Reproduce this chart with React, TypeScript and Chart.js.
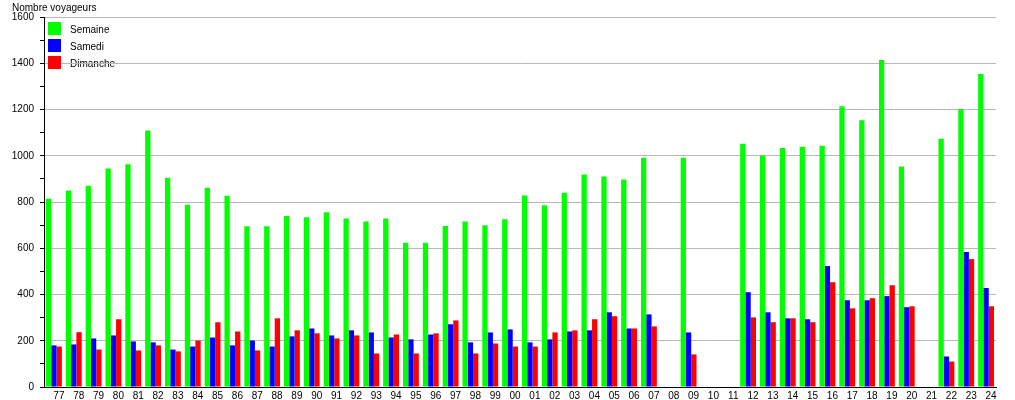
import React, { useEffect, useRef } from "react";
import { Chart, registerables } from "chart.js";

Chart.register(...registerables);

const categories = [
  "77", "78", "79", "80", "81", "82", "83", "84", "85", "86", "87", "88", "89", "90", "91", "92",
  "93", "94", "95", "96", "97", "98", "99", "00", "01", "02", "03", "04", "05", "06", "07", "08",
  "09", "10", "11", "12", "13", "14", "15", "16", "17", "18", "19", "20", "21", "22", "23", "24",
];

const semaine = [
  814, 850, 870, 945, 963, 1109, 905, 788, 862, 827, 695, 695, 740, 734, 756, 729,
  716, 729, 624, 624, 696, 716, 700, 725, 828, 786, 840, 919, 910, 897, 991, null,
  991, null, null, 1052, 1001, 1034, 1039, 1043, 1214, 1154, 1414, 954, null, 1073, 1201, 1353,
];

const samedi = [
  180, 184, 210, 223, 197, 193, 162, 175, 214, 180, 201, 175, 219, 253, 223, 245,
  236, 214, 206, 227, 271, 193, 236, 249, 193, 206, 240, 245, 323, 253, 314, null,
  236, null, null, 410, 323, 297, 293, 523, 375, 375, 393, 345, null, 132, 584, 428,
];

const dimanche = [
  175, 237, 162, 293, 158, 180, 154, 201, 280, 240, 158, 297, 245, 232, 210, 223,
  145, 227, 145, 232, 288, 145, 188, 175, 175, 236, 245, 293, 306, 253, 262, null,
  141, null, null, 301, 280, 297, 280, 453, 340, 384, 440, 349, null, 110, 553, 349,
];

const seriesNames = ["Semaine", "Samedi", "Dimanche"];
const seriesColors = ["#00ff00", "#0000ff", "#ff0000"];
const yTitle = "Nombre voyageurs";

const FONT = "'Liberation Sans', Arial, sans-serif";

const overlayPlugin = {
  id: "overlay",
  beforeDraw(chart: any) {
    const ctx = chart.ctx;
    const area = chart.chartArea;
    ctx.save();
    ctx.fillStyle = "#000";
    ctx.font = `10px ${FONT}`;
    ctx.textBaseline = "middle";
    ctx.textAlign = "left";
    ctx.fillText(yTitle, 12, 8);
    seriesNames.forEach((name, i) => {
      ctx.fillText(name, area.left + 26, area.top + 13 + i * 17);
    });
    ctx.restore();
  },
  afterDraw(chart: any) {
    const ctx = chart.ctx;
    const area = chart.chartArea;
    ctx.save();
    seriesNames.forEach((_name, i) => {
      ctx.fillStyle = seriesColors[i];
      ctx.fillRect(area.left + 4, area.top + 5 + i * 17, 13, 13);
    });
    ctx.restore();
  },
};

export default function App() {
  const ref = useRef<HTMLCanvasElement | null>(null);

  useEffect(() => {
    if (!ref.current) return;
    const chart = new Chart(ref.current, {
      type: "bar",
      data: {
        labels: categories,
        datasets: [
          { label: seriesNames[0], data: semaine, backgroundColor: seriesColors[0] },
          { label: seriesNames[1], data: samedi, backgroundColor: seriesColors[1] },
          { label: seriesNames[2], data: dimanche, backgroundColor: seriesColors[2] },
        ],
      },
      options: {
        animation: false,
        responsive: false,
        devicePixelRatio: 1,
        layout: { padding: { top: 17, right: 19, left: 0, bottom: 0 } },
        datasets: {
          bar: { categoryPercentage: 0.8, barPercentage: 1.0 },
        },
        plugins: {
          legend: { display: false },
          title: { display: false },
          tooltip: { enabled: false },
        },
        scales: {
          x: {
            grid: { display: true, drawOnChartArea: false, drawTicks: false },
            border: { color: "#000", width: 1 },
            ticks: {
              color: "#000",
              font: { family: FONT, size: 10 },
              maxRotation: 0,
              minRotation: 0,
              autoSkip: false,
              padding: 3,
              labelOffset: 5,
            },
            afterFit(scale: any) {
              scale.height = 13;
            },
          },
          y: {
            min: 0,
            max: 1600,
            grid: {
              color: (c: any) =>
                c.tick && c.tick.value % 200 === 0 ? "#b8b8b8" : "rgba(0,0,0,0)",
              tickColor: "#000",
              tickLength: 4,
              lineWidth: 1,
            },
            border: { color: "#000", width: 1 },
            ticks: {
              stepSize: 100,
              color: "#000",
              font: { family: FONT, size: 10 },
              padding: 6,
              callback: (v: any) => (Number(v) % 200 === 0 ? String(v) : ""),
            },
            afterFit(scale: any) {
              scale.width = 44;
            },
          },
        },
      },
      plugins: [overlayPlugin],
    } as any);
    return () => chart.destroy();
  }, []);

  return (
    <div style={{ position: "fixed", left: 0, top: 0, width: 1015, height: 400, background: "#fff" }}>
      <canvas ref={ref} width={1015} height={400} style={{ display: "block" }} />
    </div>
  );
}
